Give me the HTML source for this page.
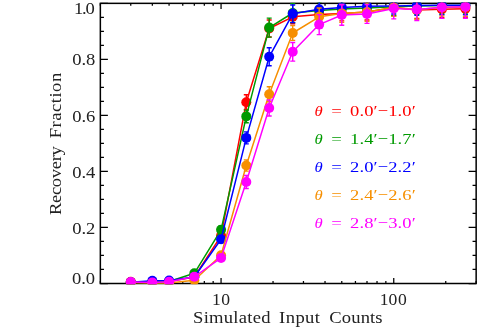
<!DOCTYPE html>
<html><head><meta charset="utf-8"><title>Recovery Fraction</title>
<style>
html,body{margin:0;padding:0;background:#fff;}
body{width:501px;height:334px;overflow:hidden;font-family:"Liberation Serif",serif;}
svg{display:block;will-change:transform;}
</style></head><body>
<svg width="501" height="334" viewBox="0 0 501 334">
<rect x="0" y="0" width="501" height="334" fill="#ffffff"/>
<defs><clipPath id="c"><rect x="99.55" y="2.55" width="377.4" height="281.75"/></clipPath></defs>
<path d="M100.35 283.50h7.55 M476.15 283.50h-7.55 M100.35 269.49h3.6 M476.15 269.49h-3.6 M100.35 255.49h3.6 M476.15 255.49h-3.6 M100.35 241.48h3.6 M476.15 241.48h-3.6 M100.35 227.47h7.55 M476.15 227.47h-7.55 M100.35 213.46h3.6 M476.15 213.46h-3.6 M100.35 199.46h3.6 M476.15 199.46h-3.6 M100.35 185.45h3.6 M476.15 185.45h-3.6 M100.35 171.44h7.55 M476.15 171.44h-7.55 M100.35 157.43h3.6 M476.15 157.43h-3.6 M100.35 143.43h3.6 M476.15 143.43h-3.6 M100.35 129.42h3.6 M476.15 129.42h-3.6 M100.35 115.41h7.55 M476.15 115.41h-7.55 M100.35 101.40h3.6 M476.15 101.40h-3.6 M100.35 87.40h3.6 M476.15 87.40h-3.6 M100.35 73.39h3.6 M476.15 73.39h-3.6 M100.35 59.38h7.55 M476.15 59.38h-7.55 M100.35 45.37h3.6 M476.15 45.37h-3.6 M100.35 31.37h3.6 M476.15 31.37h-3.6 M100.35 17.36h3.6 M476.15 17.36h-3.6 M100.35 3.35h7.55 M476.15 3.35h-7.55 M100.35 283.50v-2.5 M100.35 3.35v2.5 M130.76 283.50v-2.5 M130.76 3.35v2.5 M152.34 283.50v-2.5 M152.34 3.35v2.5 M169.07 283.50v-2.5 M169.07 3.35v2.5 M182.75 283.50v-2.5 M182.75 3.35v2.5 M194.31 283.50v-2.5 M194.31 3.35v2.5 M204.32 283.50v-2.5 M204.32 3.35v2.5 M213.16 283.50v-2.5 M213.16 3.35v2.5 M221.06 283.50v-5.6 M221.06 3.35v5.6 M273.04 283.50v-2.5 M273.04 3.35v2.5 M303.46 283.50v-2.5 M303.46 3.35v2.5 M325.03 283.50v-2.5 M325.03 3.35v2.5 M341.77 283.50v-2.5 M341.77 3.35v2.5 M355.44 283.50v-2.5 M355.44 3.35v2.5 M367.00 283.50v-2.5 M367.00 3.35v2.5 M377.02 283.50v-2.5 M377.02 3.35v2.5 M385.85 283.50v-2.5 M385.85 3.35v2.5 M393.75 283.50v-5.6 M393.75 3.35v5.6 M445.74 283.50v-2.5 M445.74 3.35v2.5 M476.15 283.50v-2.5 M476.15 3.35v2.5" stroke="#000" stroke-width="1.25" fill="none"/>
<rect x="100.35" y="3.35" width="375.79999999999995" height="280.15" fill="none" stroke="#000" stroke-width="1.5"/>
<g clip-path="url(#c)">
<polyline points="130.76,281.70 152.34,282.00 169.07,281.50 194.31,277.00 221.06,235.80 246.29,102.30 269.20,28.50 292.72,16.80 319.18,14.60 341.77,13.40 367.00,12.00 393.75,7.50 416.82,10.00 441.89,9.20 465.42,8.80" fill="none" stroke="#ff0000" stroke-width="1.5" stroke-linejoin="round"/>
<path d="M194.31 275.50V278.50 M191.81 275.50h5.0 M191.81 278.50h5.0 M221.06 232.30V239.30 M218.56 232.30h5.0 M218.56 239.30h5.0 M246.29 94.80V109.80 M243.79 94.80h5.0 M243.79 109.80h5.0 M269.20 20.00V37.00 M266.70 20.00h5.0 M266.70 37.00h5.0 M292.72 9.80V23.80 M290.22 9.80h5.0 M290.22 23.80h5.0 M319.18 7.10V22.10 M316.68 7.10h5.0 M316.68 22.10h5.0 M341.77 5.90V20.90 M339.27 5.90h5.0 M339.27 20.90h5.0 M367.00 4.00V20.00 M364.50 4.00h5.0 M364.50 20.00h5.0 M393.75 -0.50V15.50 M391.25 -0.50h5.0 M391.25 15.50h5.0 M416.82 1.50V18.50 M414.32 1.50h5.0 M414.32 18.50h5.0 M441.89 0.70V17.70 M439.39 0.70h5.0 M439.39 17.70h5.0 M465.42 0.30V17.30 M462.92 0.30h5.0 M462.92 17.30h5.0" stroke="#ff0000" stroke-width="1.4" fill="none"/>
<circle cx="130.76" cy="281.70" r="5.0" fill="#ff0000"/>
<circle cx="152.34" cy="282.00" r="5.0" fill="#ff0000"/>
<circle cx="169.07" cy="281.50" r="5.0" fill="#ff0000"/>
<circle cx="194.31" cy="277.00" r="5.0" fill="#ff0000"/>
<circle cx="221.06" cy="235.80" r="5.0" fill="#ff0000"/>
<circle cx="246.29" cy="102.30" r="5.0" fill="#ff0000"/>
<circle cx="269.20" cy="28.50" r="5.0" fill="#ff0000"/>
<circle cx="292.72" cy="16.80" r="5.0" fill="#ff0000"/>
<circle cx="319.18" cy="14.60" r="5.0" fill="#ff0000"/>
<circle cx="341.77" cy="13.40" r="5.0" fill="#ff0000"/>
<circle cx="367.00" cy="12.00" r="5.0" fill="#ff0000"/>
<circle cx="393.75" cy="7.50" r="5.0" fill="#ff0000"/>
<circle cx="416.82" cy="10.00" r="5.0" fill="#ff0000"/>
<circle cx="441.89" cy="9.20" r="5.0" fill="#ff0000"/>
<circle cx="465.42" cy="8.80" r="5.0" fill="#ff0000"/>
<polyline points="130.76,282.30 152.34,282.00 169.07,281.50 194.31,273.30 221.06,229.80 246.29,116.40 269.20,27.60 292.72,13.00 319.18,10.50 341.77,9.00 367.00,8.00 393.75,6.80 416.82,5.90 441.89,5.50 465.42,5.40" fill="none" stroke="#009a00" stroke-width="1.5" stroke-linejoin="round"/>
<path d="M194.31 271.30V275.30 M191.81 271.30h5.0 M191.81 275.30h5.0 M221.06 225.80V233.80 M218.56 225.80h5.0 M218.56 233.80h5.0 M246.29 110.10V122.70 M243.79 110.10h5.0 M243.79 122.70h5.0 M269.20 18.10V37.10 M266.70 18.10h5.0 M266.70 37.10h5.0 M292.72 3.50V22.50 M290.22 3.50h5.0 M290.22 22.50h5.0 M319.18 2.00V19.00 M316.68 2.00h5.0 M316.68 19.00h5.0 M341.77 0.50V17.50 M339.27 0.50h5.0 M339.27 17.50h5.0 M367.00 -0.50V16.50 M364.50 -0.50h5.0 M364.50 16.50h5.0 M393.75 -2.20V15.80 M391.25 -2.20h5.0 M391.25 15.80h5.0 M416.82 -2.60V14.40 M414.32 -2.60h5.0 M414.32 14.40h5.0 M441.89 -3.00V14.00 M439.39 -3.00h5.0 M439.39 14.00h5.0 M465.42 -3.10V13.90 M462.92 -3.10h5.0 M462.92 13.90h5.0" stroke="#009a00" stroke-width="1.4" fill="none"/>
<circle cx="130.76" cy="282.30" r="5.0" fill="#009a00"/>
<circle cx="152.34" cy="282.00" r="5.0" fill="#009a00"/>
<circle cx="169.07" cy="281.50" r="5.0" fill="#009a00"/>
<circle cx="194.31" cy="273.30" r="5.0" fill="#009a00"/>
<circle cx="221.06" cy="229.80" r="5.0" fill="#009a00"/>
<circle cx="246.29" cy="116.40" r="5.0" fill="#009a00"/>
<circle cx="269.20" cy="27.60" r="5.0" fill="#009a00"/>
<circle cx="292.72" cy="13.00" r="5.0" fill="#009a00"/>
<circle cx="319.18" cy="10.50" r="5.0" fill="#009a00"/>
<circle cx="341.77" cy="9.00" r="5.0" fill="#009a00"/>
<circle cx="367.00" cy="8.00" r="5.0" fill="#009a00"/>
<circle cx="393.75" cy="6.80" r="5.0" fill="#009a00"/>
<circle cx="416.82" cy="5.90" r="5.0" fill="#009a00"/>
<circle cx="441.89" cy="5.50" r="5.0" fill="#009a00"/>
<circle cx="465.42" cy="5.40" r="5.0" fill="#009a00"/>
<polyline points="130.76,282.20 152.34,280.80 169.07,280.50 194.31,277.00 221.06,239.30 246.29,137.90 269.20,56.80 292.72,13.80 319.18,9.30 341.77,7.40 367.00,6.30 393.75,6.00 416.82,5.60 441.89,5.30 465.42,5.30" fill="none" stroke="#0000ff" stroke-width="1.5" stroke-linejoin="round"/>
<path d="M194.31 275.50V278.50 M191.81 275.50h5.0 M191.81 278.50h5.0 M221.06 235.80V242.80 M218.56 235.80h5.0 M218.56 242.80h5.0 M246.29 131.90V143.90 M243.79 131.90h5.0 M243.79 143.90h5.0 M269.20 47.80V65.80 M266.70 47.80h5.0 M266.70 65.80h5.0 M292.72 5.00V22.60 M290.22 5.00h5.0 M290.22 22.60h5.0 M319.18 1.30V17.30 M316.68 1.30h5.0 M316.68 17.30h5.0 M341.77 -0.60V15.40 M339.27 -0.60h5.0 M339.27 15.40h5.0 M367.00 -1.70V14.30 M364.50 -1.70h5.0 M364.50 14.30h5.0 M393.75 -2.00V14.00 M391.25 -2.00h5.0 M391.25 14.00h5.0 M416.82 -4.00V15.20 M414.32 -4.00h5.0 M414.32 15.20h5.0 M441.89 -4.10V14.70 M439.39 -4.10h5.0 M439.39 14.70h5.0 M465.42 -4.20V14.80 M462.92 -4.20h5.0 M462.92 14.80h5.0" stroke="#0000ff" stroke-width="1.4" fill="none"/>
<circle cx="130.76" cy="282.20" r="5.0" fill="#0000ff"/>
<circle cx="152.34" cy="280.80" r="5.0" fill="#0000ff"/>
<circle cx="169.07" cy="280.50" r="5.0" fill="#0000ff"/>
<circle cx="194.31" cy="277.00" r="5.0" fill="#0000ff"/>
<circle cx="221.06" cy="239.30" r="5.0" fill="#0000ff"/>
<circle cx="246.29" cy="137.90" r="5.0" fill="#0000ff"/>
<circle cx="269.20" cy="56.80" r="5.0" fill="#0000ff"/>
<circle cx="292.72" cy="13.80" r="5.0" fill="#0000ff"/>
<circle cx="319.18" cy="9.30" r="5.0" fill="#0000ff"/>
<circle cx="341.77" cy="7.40" r="5.0" fill="#0000ff"/>
<circle cx="367.00" cy="6.30" r="5.0" fill="#0000ff"/>
<circle cx="393.75" cy="6.00" r="5.0" fill="#0000ff"/>
<circle cx="416.82" cy="5.60" r="5.0" fill="#0000ff"/>
<circle cx="441.89" cy="5.30" r="5.0" fill="#0000ff"/>
<circle cx="465.42" cy="5.30" r="5.0" fill="#0000ff"/>
<polyline points="130.76,282.50 152.34,283.00 169.07,283.00 194.31,280.30 221.06,255.20 246.29,165.50 269.20,94.20 292.72,33.00 319.18,16.80 341.77,13.40 367.00,12.00 393.75,7.40 416.82,9.50 441.89,7.50 465.42,7.00" fill="none" stroke="#f68f00" stroke-width="1.5" stroke-linejoin="round"/>
<path d="M194.31 279.30V281.30 M191.81 279.30h5.0 M191.81 281.30h5.0 M221.06 252.20V258.20 M218.56 252.20h5.0 M218.56 258.20h5.0 M246.29 159.90V171.10 M243.79 159.90h5.0 M243.79 171.10h5.0 M269.20 86.70V101.70 M266.70 86.70h5.0 M266.70 101.70h5.0 M292.72 25.60V40.40 M290.22 25.60h5.0 M290.22 40.40h5.0 M319.18 8.00V25.60 M316.68 8.00h5.0 M316.68 25.60h5.0 M341.77 4.40V22.40 M339.27 4.40h5.0 M339.27 22.40h5.0 M367.00 2.70V21.30 M364.50 2.70h5.0 M364.50 21.30h5.0 M393.75 -1.60V16.40 M391.25 -1.60h5.0 M391.25 16.40h5.0 M416.82 -0.20V19.20 M414.32 -0.20h5.0 M414.32 19.20h5.0 M441.89 -1.00V16.00 M439.39 -1.00h5.0 M439.39 16.00h5.0 M465.42 -2.40V16.40 M462.92 -2.40h5.0 M462.92 16.40h5.0" stroke="#f68f00" stroke-width="1.4" fill="none"/>
<circle cx="130.76" cy="282.50" r="5.0" fill="#f68f00"/>
<circle cx="152.34" cy="283.00" r="5.0" fill="#f68f00"/>
<circle cx="169.07" cy="283.00" r="5.0" fill="#f68f00"/>
<circle cx="194.31" cy="280.30" r="5.0" fill="#f68f00"/>
<circle cx="221.06" cy="255.20" r="5.0" fill="#f68f00"/>
<circle cx="246.29" cy="165.50" r="5.0" fill="#f68f00"/>
<circle cx="269.20" cy="94.20" r="5.0" fill="#f68f00"/>
<circle cx="292.72" cy="33.00" r="5.0" fill="#f68f00"/>
<circle cx="319.18" cy="16.80" r="5.0" fill="#f68f00"/>
<circle cx="341.77" cy="13.40" r="5.0" fill="#f68f00"/>
<circle cx="367.00" cy="12.00" r="5.0" fill="#f68f00"/>
<circle cx="393.75" cy="7.40" r="5.0" fill="#f68f00"/>
<circle cx="416.82" cy="9.50" r="5.0" fill="#f68f00"/>
<circle cx="441.89" cy="7.50" r="5.0" fill="#f68f00"/>
<circle cx="465.42" cy="7.00" r="5.0" fill="#f68f00"/>
<polyline points="130.76,282.00 152.34,282.60 169.07,281.80 194.31,276.80 221.06,257.90 246.29,182.00 269.20,108.00 292.72,51.80 319.18,24.60 341.77,15.00 367.00,14.00 393.75,8.40 416.82,9.40 441.89,7.20 465.42,6.70" fill="none" stroke="#ff00ff" stroke-width="1.5" stroke-linejoin="round"/>
<path d="M194.31 275.30V278.30 M191.81 275.30h5.0 M191.81 278.30h5.0 M221.06 254.90V260.90 M218.56 254.90h5.0 M218.56 260.90h5.0 M246.29 175.50V188.50 M243.79 175.50h5.0 M243.79 188.50h5.0 M269.20 100.00V116.00 M266.70 100.00h5.0 M266.70 116.00h5.0 M292.72 42.50V61.10 M290.22 42.50h5.0 M290.22 61.10h5.0 M319.18 14.60V34.60 M316.68 14.60h5.0 M316.68 34.60h5.0 M341.77 4.80V25.20 M339.27 4.80h5.0 M339.27 25.20h5.0 M367.00 4.60V23.40 M364.50 4.60h5.0 M364.50 23.40h5.0 M393.75 -2.10V18.90 M391.25 -2.10h5.0 M391.25 18.90h5.0 M416.82 -1.70V20.50 M414.32 -1.70h5.0 M414.32 20.50h5.0 M441.89 -4.00V18.40 M439.39 -4.00h5.0 M439.39 18.40h5.0 M465.42 -4.80V18.20 M462.92 -4.80h5.0 M462.92 18.20h5.0" stroke="#ff00ff" stroke-width="1.4" fill="none"/>
<circle cx="130.76" cy="282.00" r="5.0" fill="#ff00ff"/>
<circle cx="152.34" cy="282.60" r="5.0" fill="#ff00ff"/>
<circle cx="169.07" cy="281.80" r="5.0" fill="#ff00ff"/>
<circle cx="194.31" cy="276.80" r="5.0" fill="#ff00ff"/>
<circle cx="221.06" cy="257.90" r="5.0" fill="#ff00ff"/>
<circle cx="246.29" cy="182.00" r="5.0" fill="#ff00ff"/>
<circle cx="269.20" cy="108.00" r="5.0" fill="#ff00ff"/>
<circle cx="292.72" cy="51.80" r="5.0" fill="#ff00ff"/>
<circle cx="319.18" cy="24.60" r="5.0" fill="#ff00ff"/>
<circle cx="341.77" cy="15.00" r="5.0" fill="#ff00ff"/>
<circle cx="367.00" cy="14.00" r="5.0" fill="#ff00ff"/>
<circle cx="393.75" cy="8.40" r="5.0" fill="#ff00ff"/>
<circle cx="416.82" cy="9.40" r="5.0" fill="#ff00ff"/>
<circle cx="441.89" cy="7.20" r="5.0" fill="#ff00ff"/>
<circle cx="465.42" cy="6.70" r="5.0" fill="#ff00ff"/>
</g>
<g font-family="'Liberation Serif', serif" font-size="15.9" fill="#222">
<text transform="translate(73.90,13.70) scale(1.17,1)" textLength="17.95" lengthAdjust="spacing">1.0</text>
<text transform="translate(72.20,65.40) scale(1.17,1)" textLength="19.74" lengthAdjust="spacing">0.8</text>
<text transform="translate(72.20,121.80) scale(1.17,1)" textLength="19.74" lengthAdjust="spacing">0.6</text>
<text transform="translate(72.20,177.90) scale(1.17,1)" textLength="19.74" lengthAdjust="spacing">0.4</text>
<text transform="translate(72.20,234.00) scale(1.17,1)" textLength="19.74" lengthAdjust="spacing">0.2</text>
<text transform="translate(71.90,284.20) scale(1.17,1)" textLength="19.83" lengthAdjust="spacing">0.0</text>
<text transform="translate(212.05,305.20) scale(1.1,1)" x="0.00 8.47" font-size="16">10</text>
<text transform="translate(379.85,305.20) scale(1.1,1)" x="0.00 7.95 16.41" font-size="16">100</text>
<text transform="translate(193.10,322.70) scale(1.17,1)" textLength="66.15" lengthAdjust="spacing" font-size="15.9">Simulated</text>
<text transform="translate(279.10,322.70) scale(1.17,1)" textLength="34.96" lengthAdjust="spacing" font-size="15.9">Input</text>
<text transform="translate(329.30,322.70) scale(1.17,1)" textLength="45.56" lengthAdjust="spacing" font-size="15.9">Counts</text>
<g transform="translate(60.6,214.3) rotate(-90)">
<text transform="translate(-0.70,0.00) scale(1.17,1)" textLength="58.80" lengthAdjust="spacing" font-size="15.9">Recovery</text>
<text transform="translate(76.00,0.00) scale(1.17,1)" textLength="55.98" lengthAdjust="spacing" font-size="15.9">Fraction</text>
</g>
</g>
<g font-family="'Liberation Serif', serif" font-size="15.6">
<g fill="#ff0000"><text x="314.6" y="116.0" font-style="italic" textLength="8.2" lengthAdjust="spacingAndGlyphs">θ</text><text x="331.2" y="116.0" textLength="10.6" lengthAdjust="spacingAndGlyphs">=</text><text transform="translate(350.10,116.00) scale(1.19,1)" textLength="55.13" lengthAdjust="spacing">0.0′−1.0′</text></g>
<g fill="#009a00"><text x="314.6" y="143.9" font-style="italic" textLength="8.2" lengthAdjust="spacingAndGlyphs">θ</text><text x="331.2" y="143.9" textLength="10.6" lengthAdjust="spacingAndGlyphs">=</text><text transform="translate(350.10,143.90) scale(1.19,1)" textLength="55.13" lengthAdjust="spacing">1.4′−1.7′</text></g>
<g fill="#0000ff"><text x="314.6" y="171.8" font-style="italic" textLength="8.2" lengthAdjust="spacingAndGlyphs">θ</text><text x="331.2" y="171.8" textLength="10.6" lengthAdjust="spacingAndGlyphs">=</text><text transform="translate(350.10,171.80) scale(1.19,1)" textLength="55.13" lengthAdjust="spacing">2.0′−2.2′</text></g>
<g fill="#f68f00"><text x="314.6" y="199.7" font-style="italic" textLength="8.2" lengthAdjust="spacingAndGlyphs">θ</text><text x="331.2" y="199.7" textLength="10.6" lengthAdjust="spacingAndGlyphs">=</text><text transform="translate(350.10,199.70) scale(1.19,1)" textLength="55.13" lengthAdjust="spacing">2.4′−2.6′</text></g>
<g fill="#ff00ff"><text x="314.6" y="227.6" font-style="italic" textLength="8.2" lengthAdjust="spacingAndGlyphs">θ</text><text x="331.2" y="227.6" textLength="10.6" lengthAdjust="spacingAndGlyphs">=</text><text transform="translate(350.10,227.60) scale(1.19,1)" textLength="55.13" lengthAdjust="spacing">2.8′−3.0′</text></g>
</g>
</svg>
</body></html>
